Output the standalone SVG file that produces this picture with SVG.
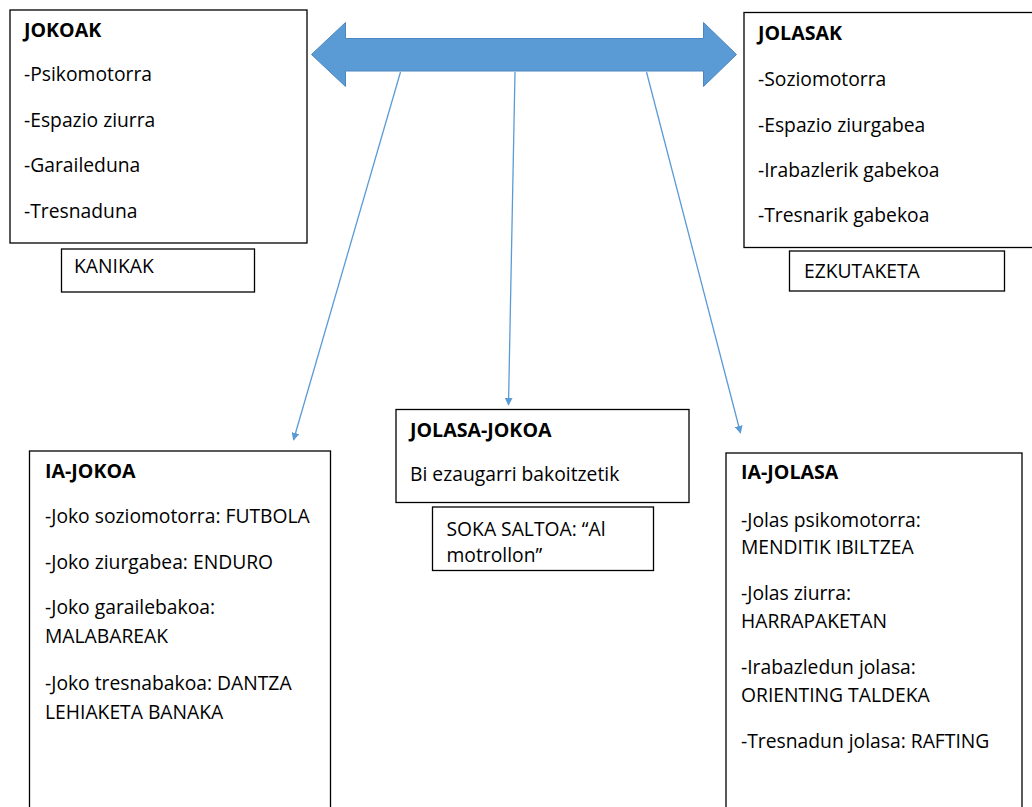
<svg xmlns="http://www.w3.org/2000/svg" width="1032" height="807" viewBox="0 0 1032 807">
<defs>
<style>
.box{fill:#fff;stroke:#000;stroke-width:1.3}
.t{font-family:"Open Sans","Noto Sans","Liberation Sans",sans-serif;font-size:19.3px;fill:#000;font-variant-ligatures:none}
.b{font-weight:bold;font-size:19.6px}
.conn{stroke:#5B9BD5;stroke-width:1.3;fill:none}
</style>
<marker id="ah" viewBox="0 0 10 10" refX="9" refY="5" markerWidth="8" markerHeight="8" markerUnits="userSpaceOnUse" orient="auto"><path d="M0,0 L10,5 L0,10 Z" fill="#5B9BD5"/></marker>
</defs>
<rect width="1032" height="807" fill="#fff"/>
<g id="double-arrow">
<path d="M311.5,54.5 L345.5,22.5 L345.5,38.5 L703.5,38.5 L703.5,22.5 L736.5,54.5 L703.5,86.5 L703.5,71 L345.5,71 L345.5,86.5 Z" fill="#5B9BD5" stroke="#4A86C0" stroke-width="1"/>
</g>
<g id="connectors">
<line class="conn" x1="400.5" y1="72" x2="293.5" y2="440" marker-end="url(#ah)"/>
<line class="conn" x1="515" y1="72" x2="508.5" y2="405" marker-end="url(#ah)"/>
<line class="conn" x1="646.5" y1="72" x2="740.5" y2="433" marker-end="url(#ah)"/>
</g>
<g id="jokoak">
<rect class="box" x="10" y="10" width="297" height="233"/>
<text class="t b" x="24" y="37">JOKOAK</text>
<text class="t" x="24" y="81">-Psikomotorra</text>
<text class="t" x="24" y="127">-Espazio ziurra</text>
<text class="t" x="24" y="172">-Garaileduna</text>
<text class="t" x="24" y="218">-Tresnaduna</text>
</g>
<g id="kanikak">
<rect class="box" x="61.5" y="249" width="193" height="43"/>
<text class="t" x="74" y="273">KANIKAK</text>
</g>
<g id="jolasak">
<rect class="box" x="744" y="12.5" width="295" height="235"/>
<text class="t b" x="758" y="40">JOLASAK</text>
<text class="t" x="758" y="86">-Soziomotorra</text>
<text class="t" x="758" y="131.5">-Espazio ziurgabea</text>
<text class="t" x="758" y="176.5">-Irabazlerik gabekoa</text>
<text class="t" x="758" y="221.5">-Tresnarik gabekoa</text>
</g>
<g id="ezkutaketa">
<rect class="box" x="789.5" y="251" width="215" height="40"/>
<text class="t" x="804" y="278">EZKUTAKETA</text>
</g>
<g id="jolasa-jokoa">
<rect class="box" x="396" y="409.5" width="293" height="93"/>
<text class="t b" x="410" y="437">JOLASA-JOKOA</text>
<text class="t" x="410" y="481">Bi ezaugarri bakoitzetik</text>
</g>
<g id="soka-saltoa">
<rect class="box" x="432.5" y="507" width="221" height="63.5"/>
<text class="t" x="446.5" y="536">SOKA SALTOA: “Al</text>
<text class="t" x="446.5" y="562">motrollon”</text>
</g>
<g id="ia-jokoa">
<rect class="box" x="29.5" y="451" width="301" height="370"/>
<text class="t b" x="45" y="478">IA-JOKOA</text>
<text class="t" x="45" y="523">-Joko soziomotorra: FUTBOLA</text>
<text class="t" x="45" y="568.5">-Joko ziurgabea: ENDURO</text>
<text class="t" x="45" y="614">-Joko garailebakoa:</text>
<text class="t" x="45" y="642.5">MALABAREAK</text>
<text class="t" x="45" y="690">-Joko tresnabakoa: DANTZA</text>
<text class="t" x="45" y="719">LEHIAKETA BANAKA</text>
</g>
<g id="ia-jolasa">
<rect class="box" x="726" y="453" width="296" height="370"/>
<text class="t b" x="741" y="479">IA-JOLASA</text>
<text class="t" x="741" y="526.5">-Jolas psikomotorra:</text>
<text class="t" x="741" y="553.5">MENDITIK IBILTZEA</text>
<text class="t" x="741" y="600">-Jolas ziurra:</text>
<text class="t" x="741" y="627.5">HARRAPAKETAN</text>
<text class="t" x="741" y="674">-Irabazledun jolasa:</text>
<text class="t" x="741" y="702">ORIENTING TALDEKA</text>
<text class="t" x="741" y="747.5">-Tresnadun jolasa: RAFTING</text>
</g>
</svg>
